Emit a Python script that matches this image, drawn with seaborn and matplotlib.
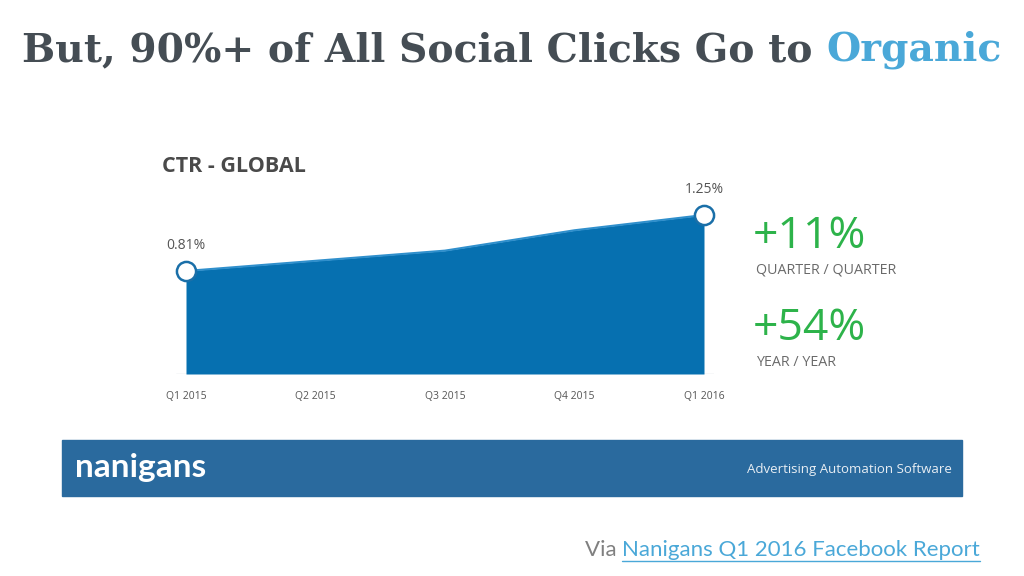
import matplotlib
matplotlib.use("Agg")
import matplotlib.pyplot as plt
import seaborn as sns
import pandas as pd
from matplotlib.patches import Rectangle
from matplotlib.lines import Line2D

# data
quarters = ["Q1 2015", "Q2 2015", "Q3 2015", "Q4 2015", "Q1 2016"]
ctr = [0.81, 0.89, 0.97, 1.13, 1.25]
point_labels = ["0.81%", "", "", "", "1.25%"]
stats = ["+11%", "+54%"]
stat_names = ["QUARTER / QUARTER", "YEAR / YEAR"]

df = pd.DataFrame({"pos": range(len(quarters)), "ctr": ctr})

sns.set_theme(style="white")
plt.rcParams["font.family"] = ["Open Sans", "DejaVu Sans"]

W, H = 1024, 576
fig = plt.figure(figsize=(W / 100, H / 100), dpi=100)
fig.patch.set_facecolor("white")

# ---------------------------
# Area chart
# ---------------------------
px_x = 129.5   # pixels per quarter
px_y = 127.2   # pixels per 1 %
pad = 0.08
ymax = 1.6
left = 186 - pad * px_x
bottom = H - 374
ax = fig.add_axes([left / W, bottom / H, (4 + 2 * pad) * px_x / W, ymax * px_y / H])

blue = "#0670b0"
ax.fill_between(df["pos"], 0, df["ctr"], color=blue, lw=0, zorder=1)
sns.lineplot(data=df, x="pos", y="ctr", ax=ax, color="#2f8fcc", lw=1.5, zorder=2)
ends = df.iloc[[0, -1]]
sns.scatterplot(data=ends, x="pos", y="ctr", ax=ax, s=190, color="white",
                edgecolor="#1a6fa8", linewidth=1.8, zorder=3, clip_on=False)
for p, v, lab in zip(df["pos"], df["ctr"], point_labels):
    if lab:
        ax.annotate(lab, (p, v), xytext=(0, 13), textcoords="offset points",
                    ha="center", va="bottom", fontsize=10, color="#555555")

ax.axhline(0, color="#d8dde2", lw=1, zorder=0)
ax.set_xlim(-pad, 4 + pad)
ax.set_ylim(0, ymax)
ax.set_xticks(df["pos"])
ax.set_xticklabels(quarters, fontsize=7.5, color="#555555")
ax.tick_params(axis="x", length=0, pad=12)
ax.set_yticks([])
ax.set_xlabel("")
ax.set_ylabel("")
sns.despine(ax=ax, left=True, bottom=True)
ax.patch.set_alpha(0)

fig.text(162 / W, 1 - 166 / H, "CTR - GLOBAL", fontsize=15.5, fontweight="bold",
         color="#4a4a4a", va="center", ha="left")

# ---------------------------
# Growth figures
# ---------------------------
green = "#2db34a"
for i, (s, n) in enumerate(zip(stats, stat_names)):
    y0 = 237 + i * 92
    fig.text(753 / W, 1 - y0 / H, s, fontsize=32, color=green, va="center", ha="left")
    fig.text(756 / W, 1 - (y0 + 33) / H, n, fontsize=10.3, color="#6a6a6a",
             va="center", ha="left")

# ---------------------------
# Banner
# ---------------------------
fig.patches.append(Rectangle((62 / W, 1 - 496 / H), 900 / W, 56 / H,
                             transform=fig.transFigure, color="#2a6a9e", zorder=0))
fig.text(75 / W, 1 - 467 / H, "nanigans", fontsize=24, fontweight="bold",
         color="white", family=["Lato", "DejaVu Sans"], va="center", ha="left")
fig.text(952 / W, 1 - 469 / H, "Advertising Automation Software", fontsize=9.5,
         color="#e8eef4", va="center", ha="right")

# ---------------------------
# Title
# ---------------------------
t1 = fig.text(22 / W, 1 - 50 / H, "But, 90%+ of All Social Clicks Go to ",
              fontsize=28.3, fontweight="bold", color="#454d54",
              family=["DejaVu Serif"], va="center", ha="left")
fig.canvas.draw()
r = fig.canvas.get_renderer()
bb = t1.get_window_extent(r)
fig.text(bb.x1 / W, 1 - 50 / H, "Organic", fontsize=28.3, fontweight="bold",
         color="#4aa8d8", family=["DejaVu Serif"], va="center", ha="left")

# ---------------------------
# Footer link
# ---------------------------
link = fig.text(980 / W, 1 - 550 / H, "Nanigans Q1 2016 Facebook Report",
                fontsize=16, color="#4aa8d8", family=["Lato", "DejaVu Sans"],
                va="center", ha="right")
fig.canvas.draw()
lb = link.get_window_extent(r)
fig.text(lb.x0 / W, 1 - 550 / H, "Via ", fontsize=16, color="#808080",
         family=["Lato", "DejaVu Sans"], va="center", ha="right")
fig.lines.append(Line2D([lb.x0 / W, lb.x1 / W], [(lb.y0 - 1) / H] * 2,
                        transform=fig.transFigure, color="#4aa8d8", lw=1))

fig.savefig("out.png", dpi=100)
